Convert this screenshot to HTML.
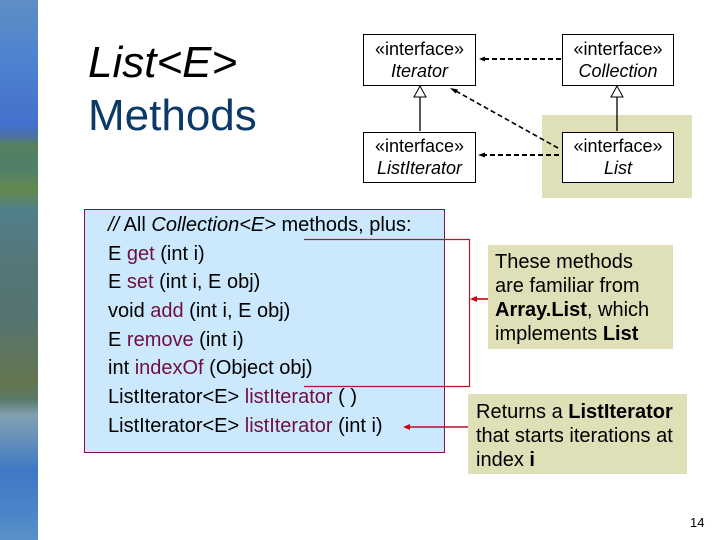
<!DOCTYPE html>
<html>
<head>
<meta charset="utf-8">
<style>
html,body{margin:0;padding:0;background:#fff}
body{width:720px;height:540px;position:relative;overflow:hidden;font-family:"Liberation Sans",sans-serif;color:#000}
.abs{position:absolute}
.t{position:absolute;white-space:nowrap}
.box{position:absolute;box-sizing:border-box;background:#fff;border:1px solid #000;text-align:center;font-size:18px;line-height:22px}
.m{color:#6e0f40}
.code{position:absolute;left:108px;font-size:20px;line-height:22px;white-space:nowrap}
.note{position:absolute;background:#dfdfb8;box-sizing:border-box;font-size:20px;line-height:24px;white-space:nowrap}
</style>
</head>
<body>
<div class="abs" style="left:0;top:0;width:38px;height:540px;background:linear-gradient(to bottom,#5f8fc4 0px,#4f82d0 60px,#4470cc 125px,#4a70a8 135px,#56805e 145px,#4f8068 170px,#66894f 190px,#50808a 210px,#55777a 260px,#55736f 320px,#5f7560 350px,#62764f 385px,#5c7a6c 400px,#82a0b0 415px,#5f8cbc 445px,#3f78c4 470px,#4a84c8 510px,#5a90c8 540px)"></div>

<div class="t" style="left:88px;top:38px;font-size:44px;line-height:50px;font-style:italic">List&lt;E&gt;</div>
<div class="t" style="left:88px;top:91px;font-size:44px;line-height:50px;color:#0b3a68">Methods</div>

<div class="abs" style="left:542px;top:115px;width:150px;height:83px;background:#dfdfb8"></div>
<div class="abs" style="left:84px;top:209px;width:361px;height:244px;box-sizing:border-box;background:#cce8fd;border:1px solid #7a1450"></div>
<div class="note" style="left:488px;top:245px;width:185px;height:104px;padding:5px 0 0 7px">These methods<br>are familiar from<br><b>Array.List</b>, which<br>implements <b>List</b></div>
<div class="note" style="left:468px;top:394px;width:219px;height:80px;padding:6px 0 0 8px">Returns a <b>ListIterator</b><br>that starts iterations at<br>index <b>i</b></div>

<svg class="abs" style="left:0;top:0" width="720" height="540" viewBox="0 0 720 540">
  <g stroke="#000" fill="none" stroke-width="1.3">
    <line x1="420" y1="131" x2="420" y2="97"/>
    <line x1="617" y1="131" x2="617" y2="97"/>
  </g>
  <polygon points="420,86 414,97 426,97" fill="#fff" stroke="#000" stroke-width="1"/>
  <polygon points="617,86 611,97 623,97" fill="#fff" stroke="#000" stroke-width="1"/>
  <g stroke="#000" fill="none" stroke-width="2" stroke-dasharray="5 3">
    <line x1="561" y1="59" x2="484" y2="59"/>
    <line x1="559" y1="155" x2="484" y2="155"/>
  </g>
  <line x1="558" y1="148" x2="454" y2="90" stroke="#000" fill="none" stroke-width="1.6" stroke-dasharray="5 3"/>
  <polygon points="479,59 485,56.500 485,61.500" fill="#000"/>
  <polygon points="478,155 485,152.500 485,157.500" fill="#000"/>
  <polygon points="450,88 458,89.500 455.500,93.500" fill="#000"/>
  <polyline points="304,239.500 469.500,239.500 469.500,386.500 304,386.500" fill="none" stroke="#b01830" stroke-width="1.2"/>
  <line x1="488" y1="299" x2="474" y2="299" stroke="#c00018" stroke-width="1.6"/>
  <polygon points="470,299 477,296 477,302" fill="#d00010"/>
  <line x1="468" y1="427" x2="408" y2="427" stroke="#b01030" stroke-width="1.6"/>
  <polygon points="403,427 410,424 410,430" fill="#d00010"/>
</svg>

<div class="box" style="left:363px;top:34px;width:113px;height:52px;padding-top:3px">«interface»<br><i>Iterator</i></div>
<div class="box" style="left:562px;top:34px;width:112px;height:52px;padding-top:3px">«interface»<br><i>Collection</i></div>
<div class="box" style="left:363px;top:132px;width:113px;height:51px;padding-top:2px">«interface»<br><i>ListIterator</i></div>
<div class="box" style="left:562px;top:132px;width:112px;height:51px;padding-top:2px">«interface»<br><i>List</i></div>

<div class="code" style="top:214px"><i>//</i> All <i>Collection&lt;E&gt;</i> methods, plus:</div>
<div class="code" style="top:243px">E <span class="m">get</span> (int i)</div>
<div class="code" style="top:271px">E <span class="m">set</span> (int i, E obj)</div>
<div class="code" style="top:300px">void <span class="m">add</span> (int i, E obj)</div>
<div class="code" style="top:329px">E <span class="m">remove</span> (int i)</div>
<div class="code" style="top:357px">int <span class="m">indexOf</span> (Object obj)</div>
<div class="code" style="top:386px">ListIterator&lt;E&gt; <span class="m">listIterator</span> ( )</div>
<div class="code" style="top:415px">ListIterator&lt;E&gt; <span class="m">listIterator</span> (int i)</div>

<div class="t" style="left:690px;top:515px;font-size:13px;line-height:16px">14</div>
</body>
</html>
